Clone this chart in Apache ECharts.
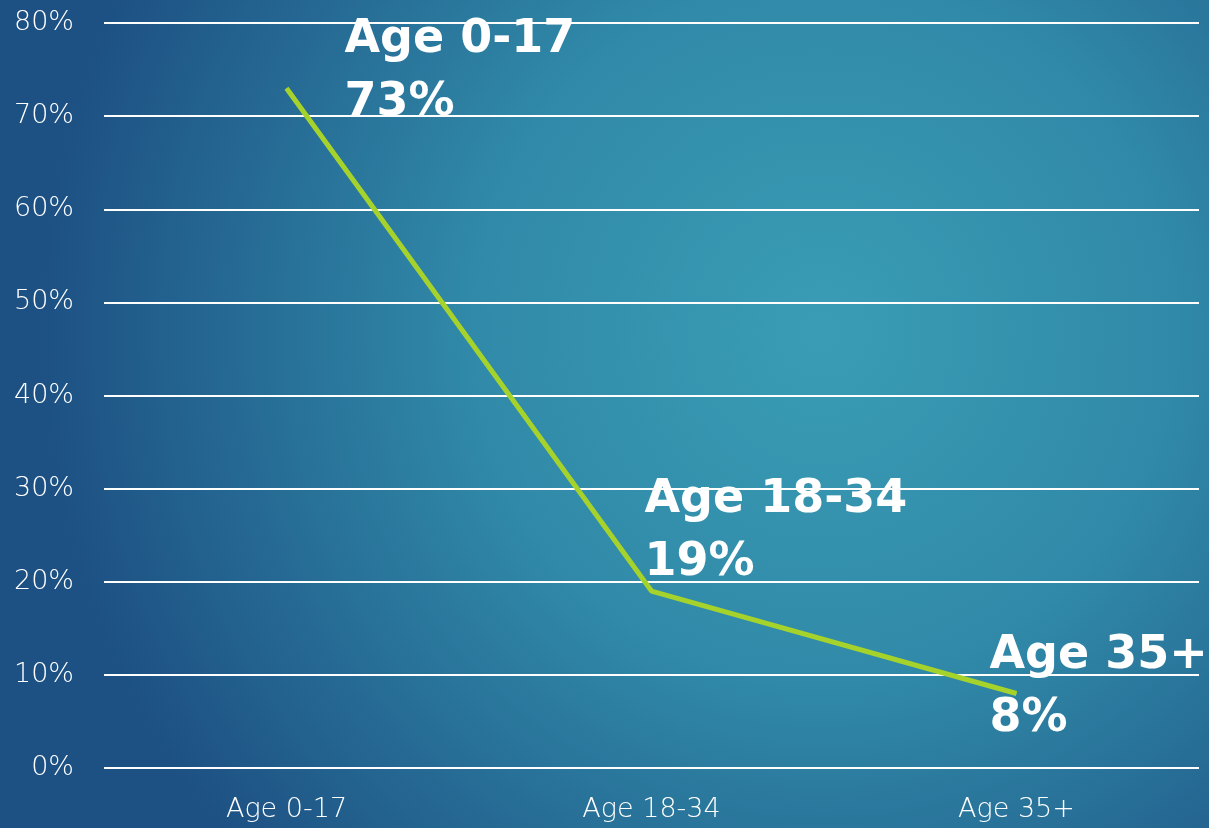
<!DOCTYPE html>
<html>
<head>
<meta charset="utf-8">
<script src="https://cdn.jsdelivr.net/npm/echarts@6/dist/echarts.min.js"></script>
<style>
  html, body { margin: 0; padding: 0; width: 1209px; height: 828px; overflow: hidden; }
  #chart { width: 1209px; height: 828px; }
</style>
</head>
<body>
<div id="chart"></div>
<script>
// Share of the group by age band
const categories = ['Age 0-17', 'Age 18-34', 'Age 35+'];
const shares = [73, 19, 8];
const yTicks = [0, 10, 20, 30, 40, 50, 60, 70, 80];

// Where each value callout sits relative to its point
const labelOffsets = [[58, -17], [-7, -60], [-27, -6]];

const FONT = '"DejaVu Sans", "Noto Sans", sans-serif';

const chart = echarts.init(document.getElementById('chart'), null, { renderer: 'canvas' });

chart.setOption({
  backgroundColor: {
    type: 'radial', x: 0.68, y: 0.4, r: 0.95,
    colorStops: [
      { offset: 0, color: '#3a9db5' },
      { offset: 0.45, color: '#3089a8' },
      { offset: 1, color: '#1d5083' }
    ]
  },
  animation: false,
  grid: { left: 104, right: 10, top: 23, bottom: 60, containLabel: false },
  xAxis: {
    type: 'category',
    data: categories,
    boundaryGap: true,
    axisLine: { show: false },
    axisTick: { show: false },
    axisLabel: { color: '#ffffff', fontSize: 27, fontWeight: 200, fontFamily: FONT, margin: 28 }
  },
  yAxis: {
    type: 'value',
    min: yTicks[0],
    max: yTicks[yTicks.length - 1],
    interval: 10,
    axisLine: { show: false },
    axisTick: { show: false },
    axisLabel: { color: '#ffffff', fontSize: 27, fontWeight: 200, fontFamily: FONT, margin: 30, formatter: '{value}%' },
    splitLine: { lineStyle: { color: '#ffffff', width: 2 } }
  },
  series: [{
    type: 'line',
    data: shares.map((v, i) => ({
      value: v,
      label: { offset: labelOffsets[i] }
    })),
    symbol: 'circle',
    symbolSize: 1,
    showSymbol: true,
    itemStyle: { color: '#a6d22c' },
    lineStyle: { color: '#a6d22c', width: 5 },
    label: {
      show: true,
      position: 'inside',
      align: 'left',
      verticalAlign: 'middle',
      color: '#ffffff',
      fontSize: 46,
      fontWeight: 'bold',
      fontFamily: FONT,
      lineHeight: 63,
      formatter: p => p.name + '\n' + p.value + '%'
    }
  }]
});
</script>
</body>
</html>
